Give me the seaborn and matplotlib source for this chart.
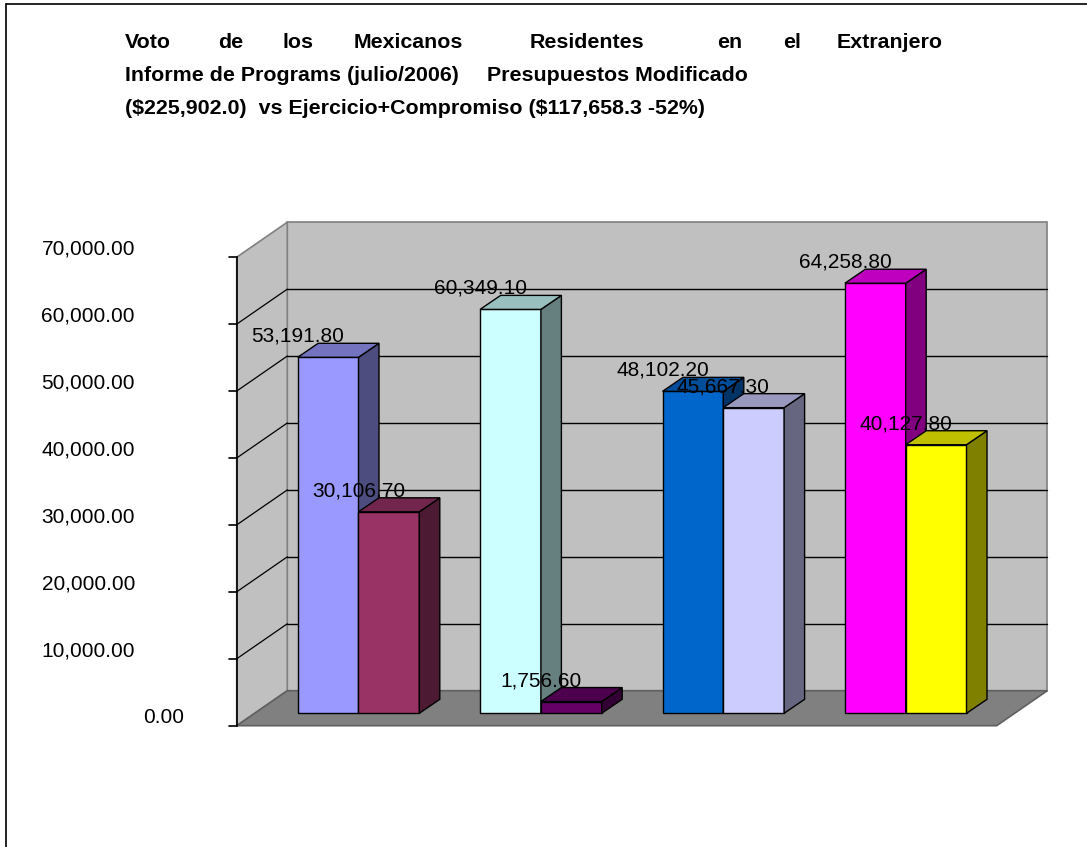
import matplotlib
matplotlib.use("Agg")
import numpy as np
import pandas as pd
import matplotlib.pyplot as plt
import matplotlib.colors as mcolors
from matplotlib.patches import Polygon, Rectangle
from matplotlib.lines import Line2D
from matplotlib.transforms import offset_copy
import seaborn as sns

# ---------------- data ----------------
grupos = ["Grupo 1", "Grupo 2", "Grupo 3", "Grupo 4"]
modificado = [53191.80, 60349.10, 48102.20, 64258.80]
ejercido = [30106.70, 1756.60, 45667.30, 40127.80]
colores_mod = ["#9999FF", "#CCFFFF", "#0066CC", "#FF00FF"]
colores_ej = ["#993366", "#660066", "#CCCCFF", "#FFFF00"]
y_ticks = [0, 10000, 20000, 30000, 40000, 50000, 60000, 70000]
y_ticklabels = ["0.00", "10,000.00", "20,000.00", "30,000.00",
                "40,000.00", "50,000.00", "60,000.00", "70,000.00"]
titulo_l1 = ["Voto", "de", "los", "Mexicanos", "Residentes", "en", "el", "Extranjero"]
titulo_l2 = ["Informe de Programs (julio/2006)", "Presupuestos Modificado"]
titulo_l3 = "($225,902.0)  vs Ejercicio+Compromiso ($117,658.3 -52%)"

sns.set_style("white")
plt.rcParams["font.family"] = ["Liberation Sans", "DejaVu Sans"]
plt.rcParams["text.color"] = "black"
plt.rcParams["text.parse_math"] = False

W, H = 1087, 847
fig = plt.figure(figsize=(W / 100, H / 100), dpi=100)
fig.patch.set_facecolor("white")

# bar front plane axes (pixel geometry)
left_px, right_px = 254.7, 1014.7
bottom_px, top_px = 713.3, 713.3 - 468.5
ax = fig.add_axes([left_px / W, (H - bottom_px) / H,
                   (right_px - left_px) / W, (bottom_px - top_px) / H])

unit_px = 60.8
xmin = -(297.7 + unit_px / 2 - left_px) / unit_px
xmax = xmin + (right_px - left_px) / unit_px
ymax = 70000

rows = []
palette = {}
for g, name in enumerate(grupos):
    for s, (vals, cols) in enumerate([(modificado, colores_mod), (ejercido, colores_ej)]):
        key = f"{name}-{s}"
        rows.append({"pos": g * 3 + s, "valor": vals[g], "barra": key})
        palette[key] = cols[g]
df = pd.DataFrame(rows)

sns.barplot(data=df, x="pos", y="valor", hue="barra", palette=palette,
            native_scale=True, dodge=False, width=1.0, legend=False,
            saturation=1, edgecolor="black", linewidth=1.0, ax=ax)

bars = [p for p in ax.patches if isinstance(p, Rectangle) and p.get_height() > 0]
bars = sorted(bars, key=lambda p: p.get_x())

ax.set_xlim(xmin, xmax)
ax.set_ylim(0, ymax)
ax.set_axis_off()

sx = (xmax - xmin) / (right_px - left_px)
sy = ymax / (bottom_px - top_px)


def off(x, y, dx, dy):
    return (x + dx * sx, y + dy * sy)


FX, FY = -18.0, -12.4    # front edge offset (px)
BX, BY = 32.6, 22.6      # back wall offset (px)
DX, DY = 20.5, 14.0      # bar depth (px)

wall = "#C0C0C0"
edge = "#808080"

# back wall
ax.add_patch(Polygon([off(xmin, 0, BX, BY), off(xmax, 0, BX, BY),
                      off(xmax, ymax, BX, BY), off(xmin, ymax, BX, BY)],
                     closed=True, facecolor=wall, edgecolor=edge, lw=1.2,
                     zorder=0.5, clip_on=False))
# side wall
ax.add_patch(Polygon([off(xmin, 0, FX, FY), off(xmin, 0, BX, BY),
                      off(xmin, ymax, BX, BY), off(xmin, ymax, FX, FY)],
                     closed=True, facecolor=wall, edgecolor=edge, lw=1.2,
                     zorder=0.5, clip_on=False))
# floor
ax.add_patch(Polygon([off(xmin, 0, FX, FY), off(xmax, 0, FX, FY),
                      off(xmax, 0, BX, BY), off(xmin, 0, BX, BY)],
                     closed=True, facecolor="#808080", edgecolor="#606060", lw=1.2,
                     zorder=0.6, clip_on=False))

# gridlines
for v in y_ticks[1:-1]:
    p0 = off(xmin, v, BX, BY)
    p1 = off(xmax, v, BX, BY)
    ax.add_line(Line2D([p0[0], p1[0]], [p0[1], p1[1]], color="black", lw=1.0,
                       zorder=0.7, clip_on=False))
    q0 = off(xmin, v, FX, FY)
    ax.add_line(Line2D([q0[0], p0[0]], [q0[1], p0[1]], color="black", lw=0.9,
                       zorder=0.7, clip_on=False))

# front value axis with ticks
a0 = off(xmin, 0, FX, FY)
a1 = off(xmin, ymax, FX, FY)
ax.add_line(Line2D([a0[0], a1[0]], [a0[1], a1[1]], color="black", lw=1.2,
                   zorder=0.8, clip_on=False))
for v, lab in zip(y_ticks, y_ticklabels):
    t0 = off(xmin, v, FX, FY)
    t1 = off(xmin, v, FX - 7.7, FY)
    ax.add_line(Line2D([t1[0], t0[0]], [t1[1], t0[1]], color="black", lw=1.2,
                       zorder=0.8, clip_on=False))
    shift = -52.7 if v == 0 else -101.7
    tr = offset_copy(ax.transData, fig=fig, x=FX + shift, y=FY + 2.5, units="dots")
    ax.text(xmin, v, lab, transform=tr, ha="right", va="baseline",
            fontsize=15, color="black", clip_on=False)

# 3D faces of the bars + labels
for k, p in enumerate(bars):
    x0 = p.get_x()
    w = p.get_width()
    h = p.get_height()
    fc = np.array(mcolors.to_rgb(p.get_facecolor()))
    z = 3 + k
    p.set_zorder(z)
    p.set_clip_on(False)
    top = Polygon([(x0, h), (x0 + w, h), off(x0 + w, h, DX, DY), off(x0, h, DX, DY)],
                  closed=True, facecolor=fc * 0.75, edgecolor="black", lw=1.0,
                  zorder=z, clip_on=False)
    side = Polygon([(x0 + w, 0), off(x0 + w, 0, DX, DY), off(x0 + w, h, DX, DY), (x0 + w, h)],
                   closed=True, facecolor=fc * 0.5, edgecolor="black", lw=1.0,
                   zorder=z, clip_on=False)
    ax.add_patch(side)
    ax.add_patch(top)
    tr = offset_copy(ax.transData, fig=fig, x=0, y=15.5, units="dots")
    ax.text(x0, h, f"{h:,.2f}", transform=tr, ha="center", va="baseline",
            fontsize=15, color="black", zorder=20, clip_on=False)

# title
tfs = 15.4
l1_x = [124.8, 218.0, 283.0, 353.5, 530.0, 717.5, 783.0, 836.8]
for word, xp in zip(titulo_l1, l1_x):
    fig.text(xp / W, 1 - 47.7 / H, word, ha="left", va="baseline",
             fontsize=tfs, fontweight="bold", color="black")
for part, xp in zip(titulo_l2, [124.8, 486.7]):
    fig.text(xp / W, 1 - 81.0 / H, part, ha="left", va="baseline",
             fontsize=tfs, fontweight="bold", color="black")
fig.text(124.8 / W, 1 - 114.3 / H, titulo_l3, ha="left", va="baseline",
         fontsize=tfs, fontweight="bold", color="black")

# chart area border (left and top)
fig.add_artist(Line2D([5.5 / W, 5.5 / W], [0, 1 - 4.5 / H], transform=fig.transFigure,
                      color="black", lw=1.2))
fig.add_artist(Line2D([5.5 / W, 1], [1 - 4.5 / H, 1 - 4.5 / H], transform=fig.transFigure,
                      color="black", lw=1.2))

fig.savefig("out.png", dpi=100)
